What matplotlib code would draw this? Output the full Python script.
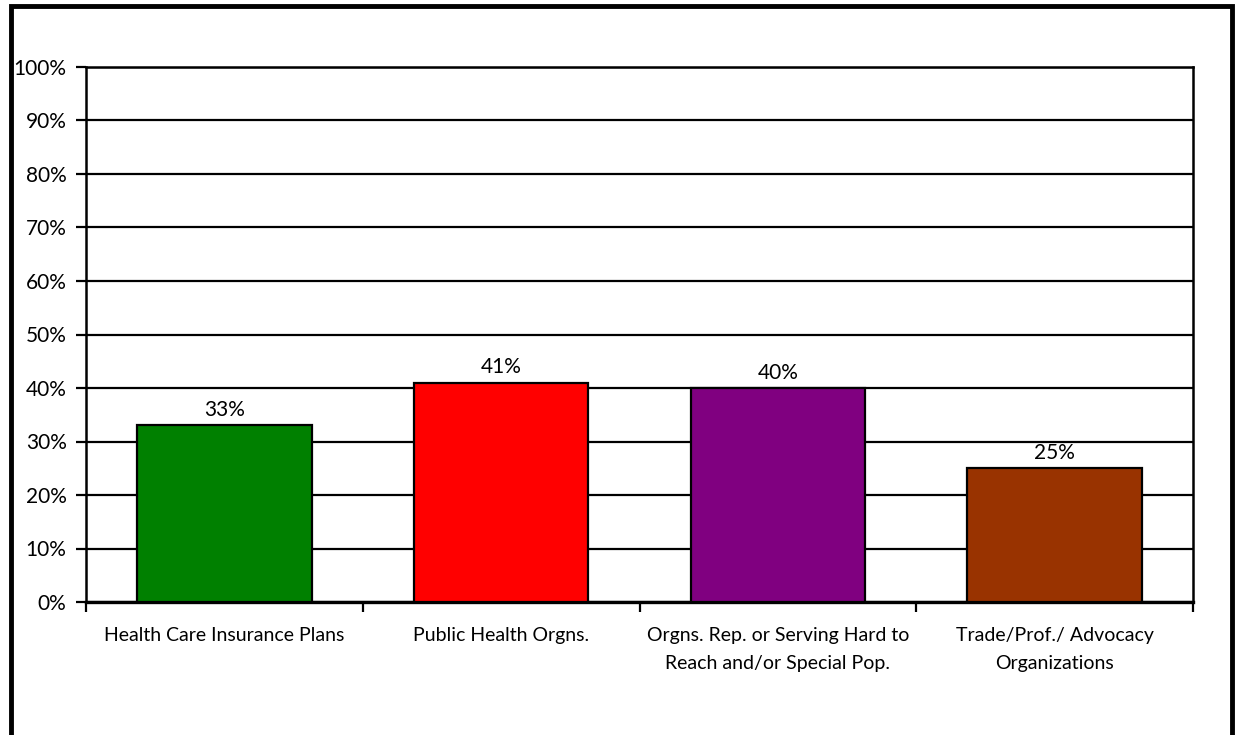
import matplotlib
matplotlib.use("Agg")
import matplotlib.pyplot as plt
from matplotlib.patches import Rectangle
from matplotlib.ticker import MultipleLocator, FuncFormatter

categories = [
    "Health Care Insurance Plans",
    "Public Health Orgns.",
    "Orgns. Rep. or Serving Hard to\nReach and/or Special Pop.",
    "Trade/Prof./ Advocacy\nOrganizations",
]
values = [33, 41, 40, 25]
colors = ["#008000", "#FF0000", "#800080", "#993300"]

plt.rcParams["font.family"] = ["Lato", "DejaVu Sans"]

W, H = 1235, 735
fig = plt.figure(figsize=(W / 100, H / 100), dpi=100)

# outer chart frame (bottom edge runs past the canvas)
fig.patches.append(Rectangle((11 / W, -0.2), (1232 - 11) / W, 1.2 - 6 / H,
                             transform=fig.transFigure, fill=False,
                             edgecolor="black", linewidth=3.5, zorder=0))

ax = fig.add_axes([86 / W, 1 - 602 / H, (1193 - 86) / W, (602 - 67) / H])

x = list(range(len(categories)))
bars = ax.bar(x, values, width=0.63, color=colors, edgecolor="black",
              linewidth=1.6, zorder=3)

for b, v in zip(bars, values):
    ax.text(b.get_x() + b.get_width() / 2, v + 1.0, f"{v}%",
            ha="center", va="bottom", fontsize=15, zorder=4)

ax.set_xlim(-0.5, len(categories) - 0.5)
ax.set_ylim(0, 100)
ax.yaxis.set_major_locator(MultipleLocator(10))
ax.yaxis.set_major_formatter(FuncFormatter(lambda v, p: f"{int(v)}%"))
ax.grid(axis="y", color="black", linewidth=1.6, zorder=1)
ax.set_axisbelow(True)

ax.set_xticks([i + 0.5 for i in range(-1, len(categories))])
ax.set_xticklabels([])
ax.set_xticks(x, minor=True)
ax.set_xticklabels(categories, minor=True, fontsize=14, linespacing=1.75)
ax.tick_params(axis="x", which="minor", length=0, pad=18)
ax.tick_params(axis="x", which="major", length=7, width=1.6, direction="out")
ax.tick_params(axis="y", length=7, width=1.6, direction="out", labelsize=15, pad=7)

for s in ax.spines.values():
    s.set_color("black")
    s.set_linewidth(1.8)
ax.spines["bottom"].set_linewidth(2.4)

fig.savefig("out.png", dpi=100, facecolor="white")
